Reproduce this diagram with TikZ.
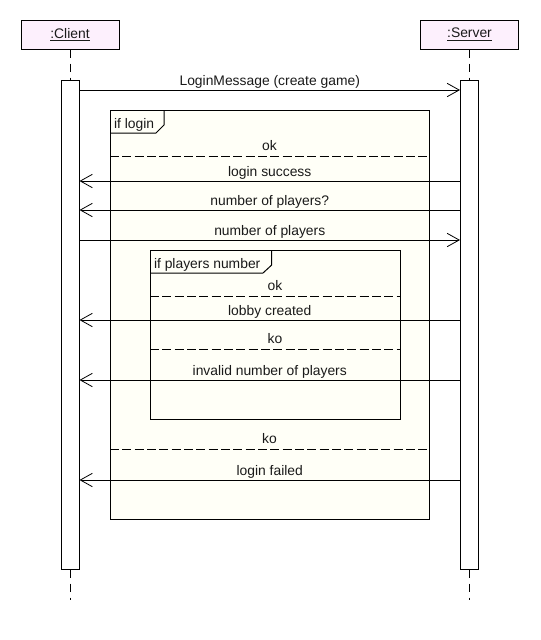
\documentclass[tikz,border=0pt]{standalone}
\usepackage{fontspec}
\setmainfont{Liberation Sans}
\usetikzlibrary{arrows.meta}
\definecolor{headfill}{HTML}{FDF0FD}
\definecolor{fragfill}{HTML}{FFFFF7}
\definecolor{txt}{HTML}{1A1A1A}
\begin{document}
\begin{tikzpicture}[x=0.75pt,y=-0.75pt,line width=0.75pt,
  font=\fontsize{10.4}{12}\selectfont,
  every node/.style={text=txt},
  head/.style={draw,fill=headfill,inner sep=0pt,minimum width=73.5pt,minimum height=21.75pt},
  actbar/.style={draw,fill=white,inner sep=0pt,minimum width=13.5pt,minimum height=366.75pt},
  lifedash/.style={dash pattern=on 6pt off 4.5pt},
  sepdash/.style={dash pattern=on 6.75pt off 2.5pt},
  frag/.style={draw,fill=fragfill},
  msg/.style={-{Straight Barb[length=9pt,width=10pt,line width=0.6pt]}},
  lbl/.style={inner sep=0pt},
  mlbl/.style={inner sep=0pt,midway,anchor=base,yshift=3.5pt}
]
\useasboundingbox (0,0) rectangle (540,640);
% lifelines
\node[head] (client) at (70,34.5) {\underline{:Client}};
\node[head] (server) at (469.5,34.5) {\underline{:Server}};
\coordinate (cend) at (70,600);
\coordinate (send) at (469.5,600);
\node[actbar] (cact) at (70,324.5) {};
\node[actbar] (sact) at (469.5,324.5) {};
\draw[lifedash] (client.south) -- (cact.north);
\draw[lifedash] (server.south) -- (sact.north);
\draw[lifedash] (cact.south) -- (cend);
\draw[lifedash] (sact.south) -- (send);
% outer fragment
\draw[frag] (110,110) rectangle (429,519);
\draw (110,133) -- (156,133) -- (164,125) -- (164,110);
\node[lbl,anchor=base west] (oname) at (113.5,128) {if login};
\node[lbl,anchor=base] (ook) at (269.5,150) {ok};
\draw[sepdash] (110,156) -- (429,156);
\node[lbl,anchor=base] (oko) at (269.5,443) {ko};
\draw[sepdash] (110,449) -- (429,449);
% inner fragment
\draw[frag] (150,250) rectangle (400,419);
\draw (150,273) -- (263,273) -- (271.7,265) -- (271.7,250);
\node[lbl,anchor=base west] (iname) at (153.5,268) {if players number};
\node[lbl,anchor=base] (iok) at (275,290) {ok};
\draw[sepdash] (150,296) -- (400,296);
\node[lbl,anchor=base] (iko) at (275,343) {ko};
\draw[sepdash] (150,349) -- (400,349);
% message end points
\foreach \n/\y in {1/90,2/181,3/210,4/240,5/320,6/380,7/480}{
  \coordinate (c\n) at (cact.east |- 0,\y);
  \coordinate (s\n) at (sact.west |- 0,\y);
}
\draw[msg] (c1) -- node[mlbl] {LoginMessage (create game)} (s1);
\draw[msg] (s2) -- node[mlbl] {login success} (c2);
\draw[msg] (s3) -- node[mlbl] {number of players?} (c3);
\draw[msg] (c4) -- node[mlbl] {number of players} (s4);
\draw[msg] (s5) -- node[mlbl] {lobby created} (c5);
\draw[msg] (s6) -- node[mlbl] {invalid number of players} (c6);
\draw[msg] (s7) -- node[mlbl] {login failed} (c7);
\end{tikzpicture}
\end{document}
